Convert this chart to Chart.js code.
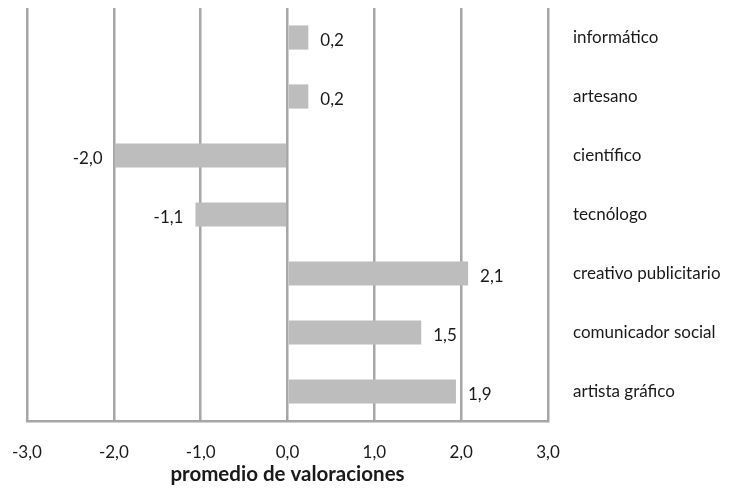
<!DOCTYPE html>
<html>
<head>
<meta charset="utf-8">
<script src="https://cdn.jsdelivr.net/npm/chart.js@4"></script>
<style>
  html, body { margin: 0; padding: 0; background: #fff; }
  #wrap { width: 744px; height: 492px; position: relative; }
</style>
</head>
<body>
<div id="wrap"><canvas id="chart"></canvas></div>
<script>
const categories = ["informático", "artesano", "científico", "tecnólogo",
    "creativo publicitario", "comunicador social", "artista gráfico"];
const valores = [0.24, 0.24, -1.99, -1.06, 2.08, 1.54, 1.94];
const xTicks = [-3, -2, -1, 0, 1, 2, 3];
const axisTitle = "promedio de valoraciones";

const FONT = "Lato, 'Open Sans', sans-serif";
const GRID = "#a6a6a6";

function fmt(v) {
    return v.toFixed(1).replace(".", ",");
}

// labels at the end of each bar, Excel style
const barLabels = {
    id: "barLabels",
    afterDatasetsDraw(chart) {
        const ctx = chart.ctx;
        const meta = chart.getDatasetMeta(0);
        ctx.save();
        ctx.font = "17px " + FONT;
        ctx.fillStyle = "#1a1a1a";
        ctx.textBaseline = "middle";
        meta.data.forEach((bar, i) => {
            const v = valores[i];
            if (v >= 0) {
                ctx.textAlign = "left";
                ctx.fillText(fmt(v), bar.x + 12, bar.y + 3);
            } else {
                ctx.textAlign = "right";
                ctx.fillText(fmt(v), bar.x - 12, bar.y + 3);
            }
        });
        ctx.restore();
    }
};

new Chart(document.getElementById("chart"), {
    type: "bar",
    data: {
        labels: categories,
        datasets: [{
            data: valores,
            backgroundColor: "#bdbdbd",
            borderWidth: 0,
            categoryPercentage: 1,
            barPercentage: 0.41
        }]
    },
    options: {
        indexAxis: "y",
        responsive: true,
        maintainAspectRatio: false,
        animation: false,
        layout: { padding: { left: 27, top: 8, right: 0, bottom: 0 } },
        plugins: {
            legend: { display: false },
            tooltip: { enabled: false }
        },
        scales: {
            x: {
                min: -3,
                max: 3,
                afterBuildTicks: (scale) => {
                    scale.ticks = xTicks.map(v => ({ value: v }));
                },
                ticks: {
                    color: "#1a1a1a",
                    font: { family: FONT, size: 17 },
                    padding: 21,
                    callback: (v) => fmt(v)
                },
                grid: { color: GRID, lineWidth: 2.5, drawTicks: false },
                border: { color: GRID, width: 2.5 },
                title: {
                    display: true,
                    text: axisTitle,
                    color: "#1a1a1a",
                    font: { family: FONT, size: 20.5, weight: "bold" },
                    padding: { top: 0, bottom: 5 }
                },
                afterFit: (scale) => {
                    scale.height = 71;
                    scale.paddingLeft = 0;
                    scale.paddingRight = 0;
                }
            },
            y: {
                position: "right",
                grid: { display: false, drawTicks: false },
                border: { display: false },
                ticks: {
                    color: "#1a1a1a",
                    font: { family: FONT, size: 17 },
                    padding: 25
                },
                afterFit: (scale) => {
                    scale.width = 196;
                    scale.paddingTop = 0;
                    scale.paddingBottom = 0;
                }
            }
        }
    },
    plugins: [barLabels]
});
</script>
</body>
</html>
